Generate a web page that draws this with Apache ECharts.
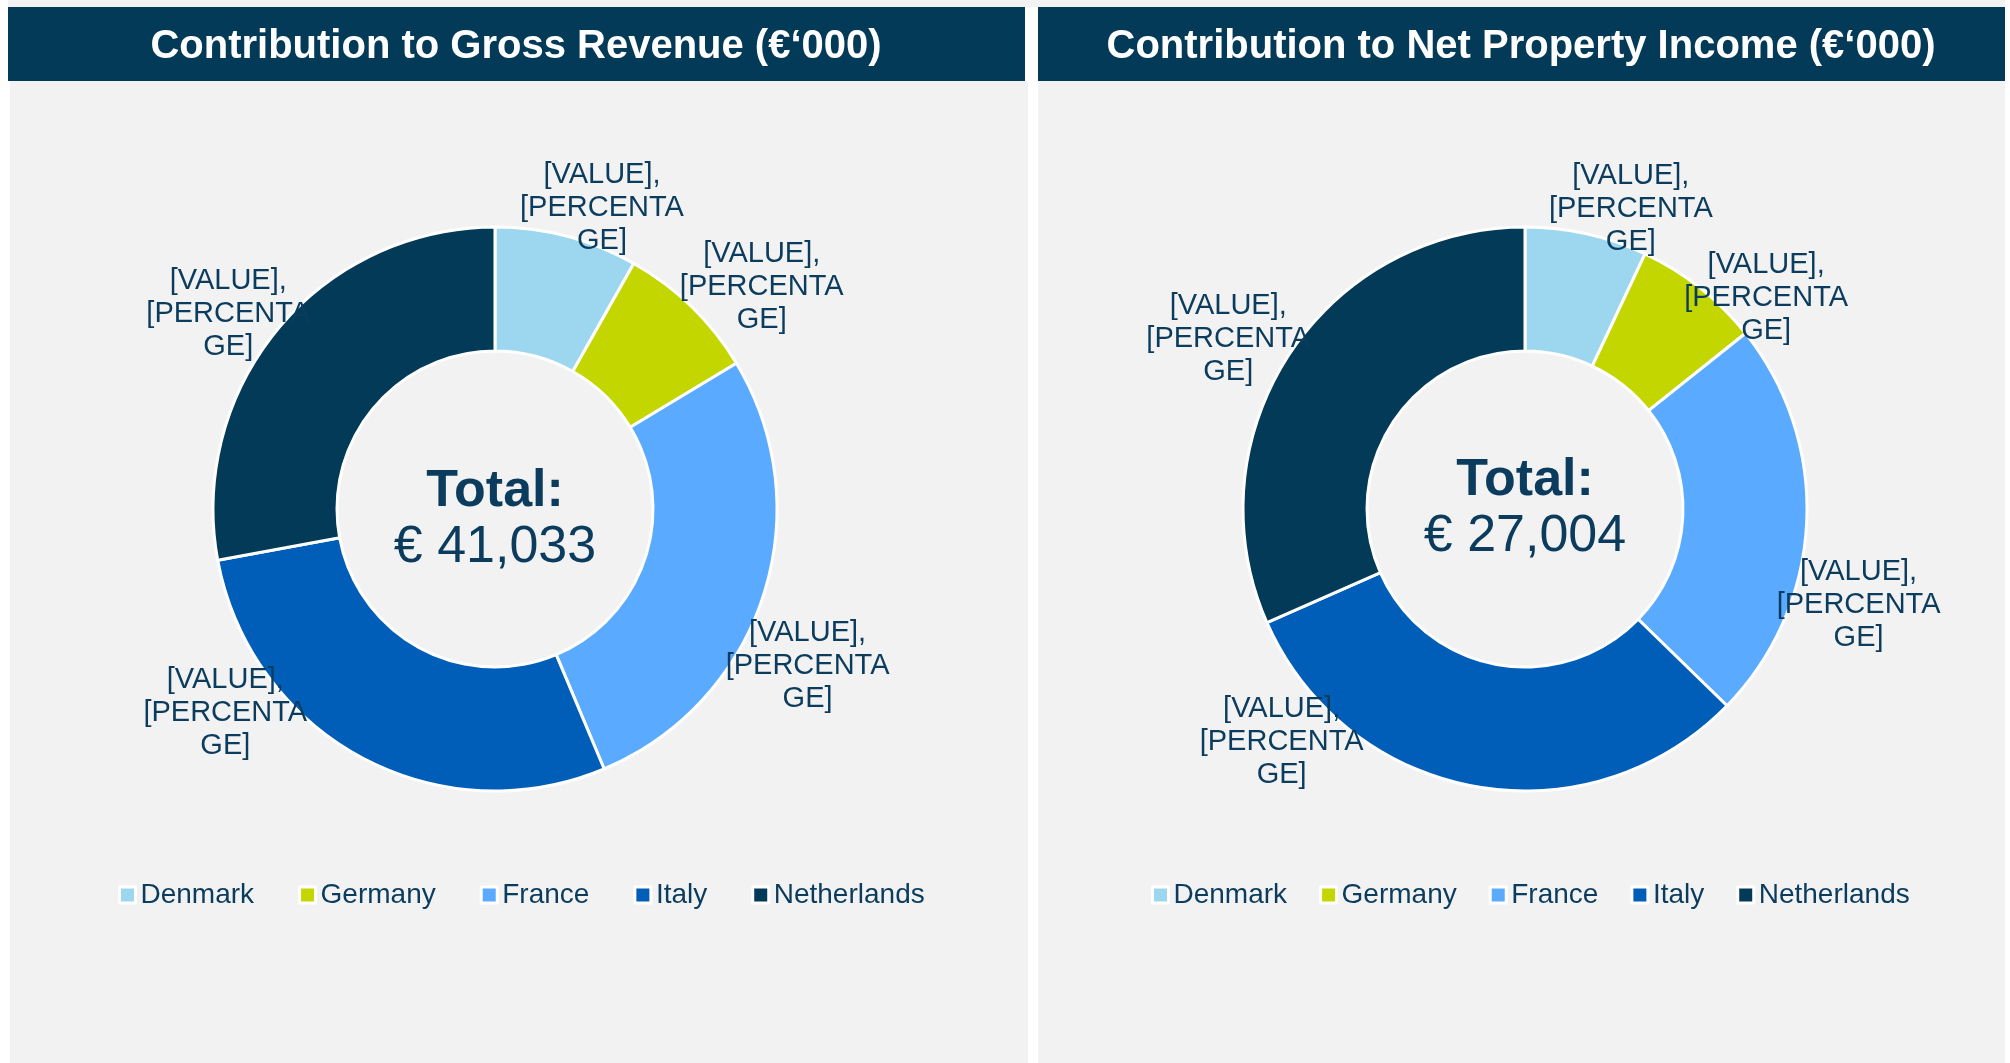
<!DOCTYPE html>
<html>
<head>
<meta charset="utf-8">
<script src="https://cdn.jsdelivr.net/npm/echarts@6/dist/echarts.min.js"></script>
<style>
  html, body { margin:0; padding:0; background:#ffffff; }
  #chart { width:2010px; height:1063px; }
</style>
</head>
<body>
<div id="chart"></div>
<script>
// countries, same order for both donuts
const countries = ['Denmark', 'Germany', 'France', 'Italy', 'Netherlands'];
// contribution to gross revenue (EUR '000)
const grossRevenue = [3360, 3350, 11210, 11660, 11453];
// contribution to net property income (EUR '000)
const netPropertyIncome = [1890, 1970, 6210, 8400, 8534];
const panelTitles = ['Contribution to Gross Revenue (€‘000)', 'Contribution to Net Property Income (€‘000)'];
const labelText = '[VALUE],\n[PERCENTA\nGE]';

const colorcode = ['#9dd7ef', '#c4d600', '#5aabff', '#005eb8', '#023a58'];
const navy = '#023a58';
const textNavy = '#0b3c5d';
const fontName = '"Liberation Sans", Arial, Helvetica, sans-serif';

// best-fit label nudges (px), like the spreadsheet placed them
const grossLabelNudge = [[17, 22], [29, 18], [-10, 54], [-106, -90], [-5, 19]];
const netLabelNudge = [[28, 26], [29, 51], [-5, 79], [-179, -96], [-12, 12]];

function fmtTotal(arr) {
  let t = arr.reduce((a, b) => a + b, 0);
  return '€ ' + t.toLocaleString('en-US');
}

function donutSeries(name, values, center, nudge) {
  return {
    name: name,
    type: 'pie',
    center: center,
    radius: [158, 282],
    startAngle: 90,
    clockwise: true,
    avoidLabelOverlap: false,
    itemStyle: { borderColor: '#ffffff', borderWidth: 3 },
    label: {
      show: true,
      position: 'outside',
      formatter: labelText,
      color: textNavy,
      fontFamily: fontName,
      fontSize: 29,
      lineHeight: 33,
      align: 'center'
    },
    labelLine: { show: false, length: 52, length2: 0 },
    labelLayout: function () {
      return { align: 'center', verticalAlign: 'middle' };
    },
    emphasis: { disabled: true },
    data: countries.map((c, i) => ({
      name: c,
      value: values[i],
      label: { offset: nudge[i] }
    }))
  };
}

function legendAt(left, gap) {
  return {
    data: countries,
    left: left,
    top: 876,
    orient: 'horizontal',
    itemGap: gap,
    itemWidth: 16,
    itemHeight: 16,
    icon: 'rect',
    itemStyle: { borderColor: '#ffffff', borderWidth: 3 },
    textStyle: { color: textNavy, fontFamily: fontName, fontSize: 28 },
    selectedMode: false
  };
}

let drawCharts = echarts.init(document.getElementById('chart'));
let option = {
  backgroundColor: '#ffffff',
  animation: false,
  color: colorcode,
  graphic: [
    { type: 'rect', silent: true, z: -10, shape: { x: 8, y: 0, width: 1997, height: 7 }, style: { fill: '#f2f2f2' } },
    { type: 'rect', silent: true, z: -10, shape: { x: 10, y: 81, width: 1018, height: 982 }, style: { fill: '#f2f2f2' } },
    { type: 'rect', silent: true, z: -10, shape: { x: 1038, y: 81, width: 967, height: 982 }, style: { fill: '#f2f2f2' } },
    { type: 'rect', silent: true, z: -9, shape: { x: 8, y: 7, width: 1017, height: 74 }, style: { fill: navy } },
    { type: 'rect', silent: true, z: -9, shape: { x: 1038, y: 7, width: 967, height: 74 }, style: { fill: navy } },
    { type: 'text', silent: true, x: 516, y: 47, style: { text: panelTitles[0], align: 'center', verticalAlign: 'middle', fill: '#ffffff', font: 'bold 40px ' + fontName } },
    { type: 'text', silent: true, x: 1521, y: 47, style: { text: panelTitles[1], align: 'center', verticalAlign: 'middle', fill: '#ffffff', font: 'bold 40px ' + fontName } },
    { type: 'text', silent: true, x: 495, y: 492, style: { text: 'Total:', align: 'center', verticalAlign: 'middle', fill: textNavy, font: 'bold 52px ' + fontName } },
    { type: 'text', silent: true, x: 495, y: 548, style: { text: fmtTotal(grossRevenue), align: 'center', verticalAlign: 'middle', fill: textNavy, font: '52px ' + fontName } },
    { type: 'text', silent: true, x: 1525, y: 481, style: { text: 'Total:', align: 'center', verticalAlign: 'middle', fill: textNavy, font: 'bold 52px ' + fontName } },
    { type: 'text', silent: true, x: 1525, y: 537, style: { text: fmtTotal(netPropertyIncome), align: 'center', verticalAlign: 'middle', fill: textNavy, font: '52px ' + fontName } }
  ],
  legend: [legendAt(113, 44), legendAt(1146, 32)],
  series: [
    donutSeries('Gross Revenue', grossRevenue, [495, 509], grossLabelNudge),
    donutSeries('Net Property Income', netPropertyIncome, [1525, 509], netLabelNudge)
  ]
};
drawCharts.setOption(option);
</script>
</body>
</html>
